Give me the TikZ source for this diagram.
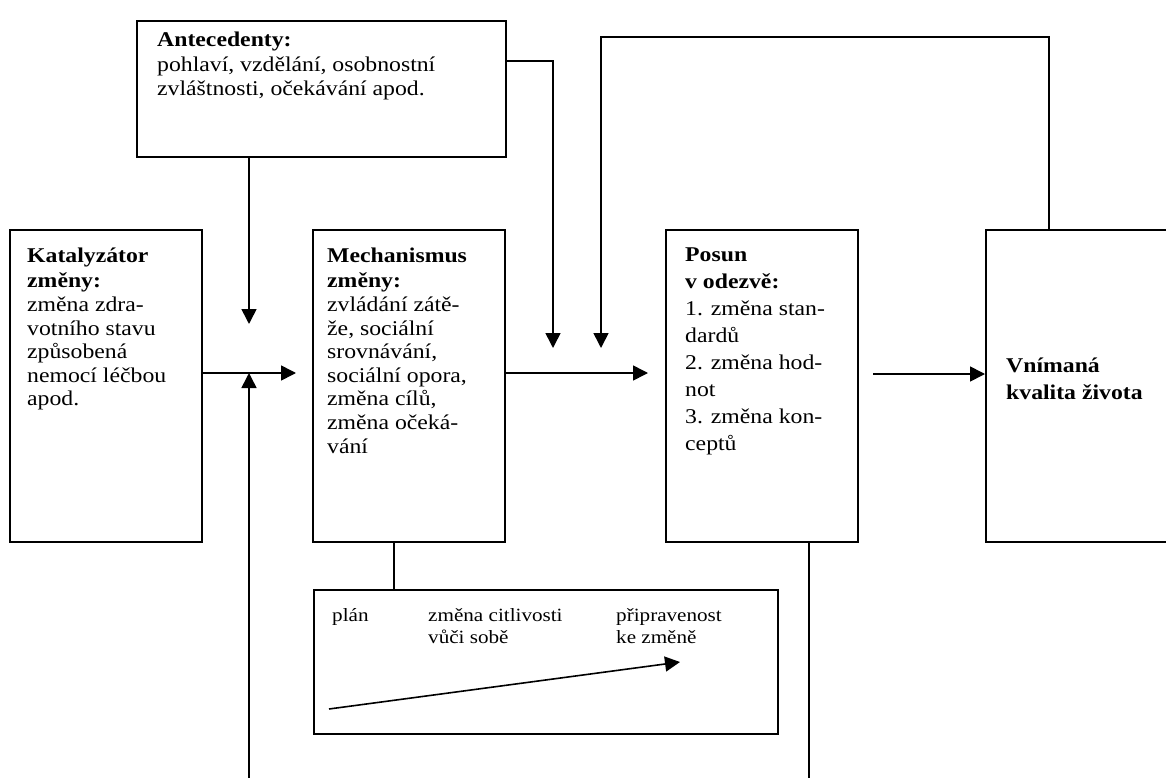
\documentclass[tikz,border=0pt]{standalone}
\usepackage{fontspec}
\setmainfont{Liberation Serif}[FakeStretch=1.13]
\usetikzlibrary{arrows.meta, positioning, calc}

\begin{document}
\begin{tikzpicture}[x=1pt, y=-1pt,
  box/.style={draw, line width=1.6pt, inner sep=0pt, anchor=north west},
  txt/.style={anchor=north west, align=left, inner sep=0pt, font=\fontsize{21}{23.6}\selectfont},
  small/.style={txt, font=\fontsize{18.7}{22}\selectfont},
  arr/.style={line width=1.6pt, -{Triangle[length=15pt, width=15pt]}},
  wire/.style={line width=1.6pt}]
  \useasboundingbox (0,0) rectangle (1166,778);

  % Antecedents
  \node[box, minimum width=369pt, minimum height=136pt] (ante) at (136,20) {};
  \node[txt, font=\fontsize{21}{24.5}\selectfont] (ante-txt) at (157,32) {\textbf{Antecedenty:}\\pohlaví, vzdělání, osobnostní\\zvláštnosti, očekávání apod.};

  % Catalyst, mechanism, response shift, quality of life
  \node[box, minimum width=192pt, minimum height=312pt] (katal) at (9,229) {};
  \node[txt] (katal-txt) at (27,248) {\textbf{Katalyzátor}\\[1.5pt]\textbf{změny:}\\změna zdra-\\votního stavu\\způsobená\\nemocí léčbou\\apod.};

  \node[box, minimum width=192pt, minimum height=312pt] (mech) at (312,229) {};
  \node[txt] (mech-txt) at (327,248) {\textbf{Mechanismus}\\[1.5pt]\textbf{změny:}\\zvládání zátě-\\že, sociální\\srovnávání,\\sociální opora,\\změna cílů,\\změna očeká-\\vání};

  \node[box, minimum width=192pt, minimum height=312pt] (posun) at (665,229) {};
  \node[txt, font=\fontsize{21}{26.9}\selectfont] (posun-txt) at (685,248) {\textbf{Posun}\\\textbf{v odezvě:}\\1. změna stan-\\dardů\\2. změna hod-\\not\\3. změna kon-\\ceptů};

  \node[box, minimum width=190pt, minimum height=312pt] (vnim) at (985,229) {};
  \node[txt, font=\fontsize{21}{26.5}\selectfont] (vnim-txt) at (1006,358) {\textbf{Vnímaná}\\\textbf{kvalita života}};

  % Readiness box
  \node[box, minimum width=464pt, minimum height=144pt] (plan) at (313,589) {};
  \node[small] (plan-a) at (332,608) {plán};
  \node[small] (plan-b) at (428,608) {změna citlivosti\\vůči sobě};
  \node[small] (plan-c) at (616,608) {připravenost\\ke změně};

  % Connector points
  \coordinate (in-mech) at (296,373);
  \coordinate (in-posun) at (648,373);
  \coordinate (out-posun) at (873,374);
  \coordinate (drop-a) at (249,324);
  \coordinate (rise-a) at (249,778);
  \coordinate (drop-b) at (553,348);
  \coordinate (drop-c) at (601,348);
  \coordinate (loop-top) at (1049,37);
  \coordinate (posun-exit) at (809,778);
  \coordinate (trend-a) at (329,709);
  \coordinate (trend-b) at (680,662);

  % Arrows
  \draw[arr] (katal.east |- in-mech) -- (in-mech);
  \draw[arr] (mech.east |- in-posun) -- (in-posun);
  \draw[arr] (out-posun) -- (vnim.west |- out-posun);
  \draw[arr] (ante.south -| drop-a) -- (drop-a);
  \draw[arr] (rise-a) -- (rise-a |- in-mech);
  \draw[arr] ([yshift=-41pt]ante.north east) -| (drop-b);
  \draw[arr] (vnim.north -| loop-top) -- (loop-top) -| (drop-c);
  \draw[wire] ([xshift=-15pt]mech.south) -- ([xshift=-15pt]mech.south |- plan.north);
  \draw[wire] (posun.south -| posun-exit) -- (posun-exit);
  \draw[arr] (trend-a) -- (trend-b);
\end{tikzpicture}
\end{document}
